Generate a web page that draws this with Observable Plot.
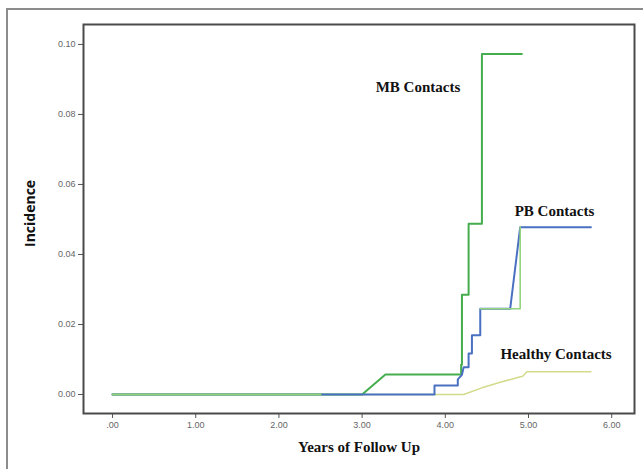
<!DOCTYPE html>
<html>
<head>
<meta charset="utf-8">
<script src="https://cdn.jsdelivr.net/npm/d3@7"></script>
<script src="https://cdn.jsdelivr.net/npm/@observablehq/plot@0.6"></script>
<style>
  html, body { margin: 0; padding: 0; background: #fff; overflow: hidden; }
  #wrap { position: relative; width: 643px; height: 469px; }
  #border { position: absolute; left: 6px; top: 8px; width: 700px; height: 600px; border: 2px solid #8c8c8c; box-sizing: border-box; }
  #chart { position: absolute; left: 0; top: 0; }
</style>
</head>
<body>
<div id="wrap"><div id="border"></div><div id="chart"></div></div>
<script>
// Tick values and labels
const yTicks = [0, 0.02, 0.04, 0.06, 0.08, 0.10];
const yTickLabels = ["0.00", "0.02", "0.04", "0.06", "0.08", "0.10"];
const xTicks = [0, 1, 2, 3, 4, 5, 6];
const xTickLabels = [".00", "1.00", "2.00", "3.00", "4.00", "5.00", "6.00"];

// MB Contacts (cumulative incidence path)
const mbX = [0, 3.0, 3.28, 4.19, 4.19, 4.20, 4.20, 4.28, 4.28, 4.44, 4.44, 4.92];
const mbY = [0, 0, 0.0057, 0.0057, 0.0085, 0.0085, 0.0285, 0.0285, 0.0488, 0.0488, 0.0973, 0.0973];

// PB Contacts
const pbX = [0, 3.87, 3.87, 4.15, 4.15, 4.20, 4.22, 4.28, 4.28, 4.32, 4.32, 4.42, 4.42, 4.78, 4.90, 5.75];
const pbY = [0, 0, 0.0026, 0.0026, 0.0043, 0.0056, 0.0078, 0.0078, 0.0117, 0.0117, 0.0169, 0.0169, 0.0245, 0.0245, 0.0478, 0.0478];

// light green companion path
const lgX = [4.42, 4.90, 4.90];
const lgY = [0.0245, 0.0245, 0.0478];
const lgStartX = [0, 2.5];
const lgStartY = [0, 0];

// Healthy Contacts
const hcX = [0, 4.22, 4.44, 4.66, 4.88, 4.93, 4.98, 5.75];
const hcY = [0, 0, 0.0019, 0.0035, 0.0049, 0.0052, 0.0065, 0.0065];

// Annotation labels
const labels = ["MB Contacts", "PB Contacts", "Healthy Contacts"];
const labelX = [4.18, 5.79, 6.0];
const labelY = [0.0877, 0.0523, 0.0114];

const toRows = (xs, ys) => xs.map((x, i) => ({x, y: ys[i]}));
const mb = toRows(mbX, mbY);
const pb = toRows(pbX, pbY);
const lg = toRows(lgX, lgY);
const lgStart = toRows(lgStartX, lgStartY);
const hc = toRows(hcX, hcY);
const labelRows = labels.map((t, i) => ({t, x: labelX[i], y: labelY[i]}));

const chart = Plot.plot({
  width: 643,
  height: 469,
  marginLeft: 83,
  marginRight: 9,
  marginTop: 24,
  marginBottom: 56,
  style: { background: "transparent", overflow: "visible" },
  x: { domain: [-0.349, 6.274], ticks: xTicks, tickFormat: (d) => xTickLabels[xTicks.indexOf(d)], label: null, tickSize: 5, tickPadding: 3 },
  y: { domain: [-0.00543, 0.1057], ticks: yTicks, tickFormat: (d) => yTickLabels[yTicks.findIndex(v => Math.abs(v - d) < 1e-9)], label: null, tickSize: 5, tickPadding: 3 },
  marks: [
    Plot.lineY(hc, {x: "x", y: "y", stroke: "#d3db8a", strokeWidth: 1.5}),
    Plot.lineY(mb, {x: "x", y: "y", stroke: "#45ad4e", strokeWidth: 2}),
    Plot.lineY(pb, {x: "x", y: "y", stroke: "#4a70c2", strokeWidth: 2}),
    Plot.lineY(lg, {x: "x", y: "y", stroke: "#93d47e", strokeWidth: 1.6}),
    Plot.lineY(lgStart, {x: "x", y: "y", stroke: "#8fd07c", strokeWidth: 2}),
    Plot.axisX({ticks: xTicks, tickFormat: (d) => xTickLabels[xTicks.indexOf(d)], tickSize: 5, tickPadding: 3, stroke: "#555", fill: "#666", fontSize: 9, fontFamily: "Liberation Sans", label: null}),
    Plot.axisY({ticks: yTicks, tickFormat: (d) => yTickLabels[yTicks.findIndex(v => Math.abs(v - d) < 1e-9)], tickSize: 5, tickPadding: 3, stroke: "#555", fill: "#666", fontSize: 9, fontFamily: "Liberation Sans", label: null}),
    Plot.frame({stroke: "#4a4a4a", strokeWidth: 2}),
    Plot.text(labelRows, {x: "x", y: "y", text: "t", textAnchor: "end", fontFamily: "Liberation Serif", fontWeight: "bold", fontSize: 15, fill: "#111"}),
    Plot.text(["Years of Follow Up"], {frameAnchor: "bottom", dy: 38, fontFamily: "Liberation Serif", fontWeight: "bold", fontSize: 15, fill: "#111"}),
    Plot.text(["Incidence"], {frameAnchor: "left", dx: -53, dy: 28, rotate: -90, fontFamily: "Open Sans", fontWeight: "bold", fontSize: 14, fill: "#111"})
  ]
});
document.getElementById("chart").appendChild(chart);
</script>
</body>
</html>
